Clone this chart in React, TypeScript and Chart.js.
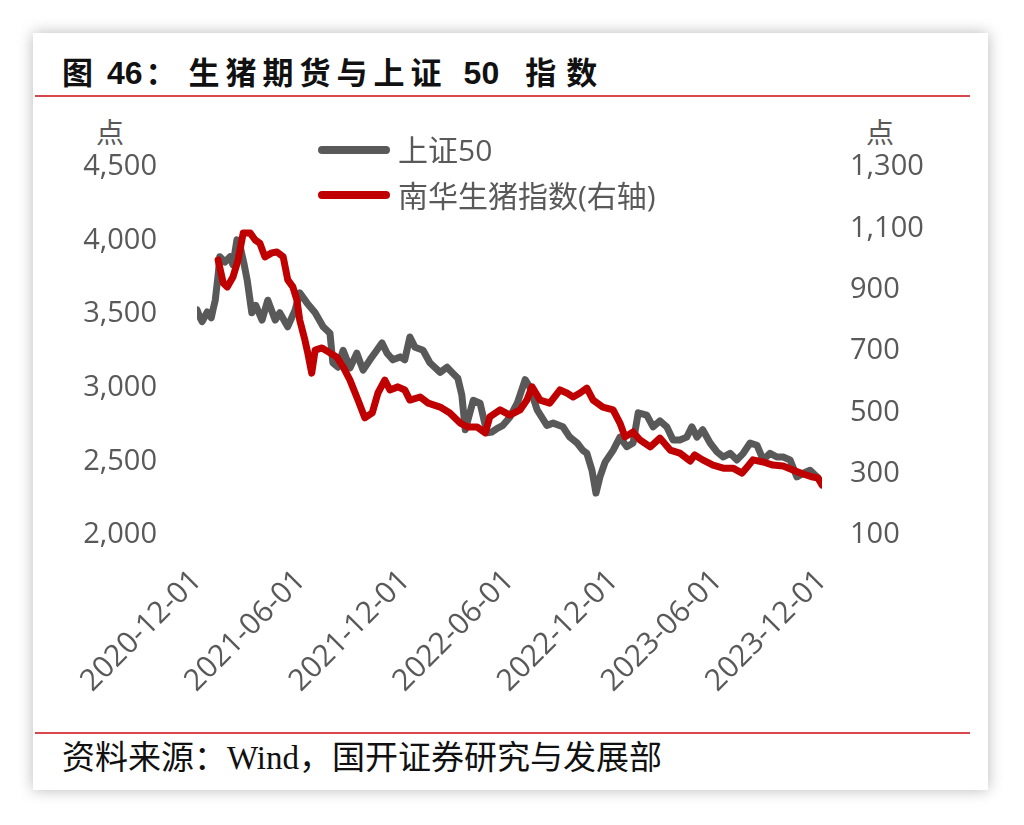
import React, { useEffect, useRef } from "react";
import Chart from "chart.js/auto";

// x values are days since 2020-12-01
const xTickDays = [0, 182, 365, 547, 730, 912, 1095];
const xTickLabels = ["2020-12-01", "2021-06-01", "2021-12-01", "2022-06-01", "2022-12-01", "2023-06-01", "2023-12-01"];

const leftTicks = [2000, 2500, 3000, 3500, 4000, 4500];
const rightTicks = [100, 300, 500, 700, 900, 1100, 1300];

const seriesNames = ["上证50", "南华生猪指数(右轴)"];

// 上证50 (left axis)
const sz50Days = [0,5,9,18,25,28,32,37,40,49,58,63,70,75,82,88,96,103,114,124,137,145,159,172,180,193,207,221,233,238,247,256,268,280,291,303,315,324,333,343,356,364,373,382,396,408,426,438,448,457,464,470,484,496,508,517,526,536,548,561,575,583,596,613,624,641,653,666,676,683,692,699,706,715,729,741,753,764,773,788,799,811,823,834,846,858,867,876,886,899,911,922,934,946,957,969,981,992,1004,1016,1027,1039,1051,1062,1074,1086,1095];
const sz50Vals = [3530,3480,3450,3515,3475,3530,3595,3765,3890,3855,3890,3835,4005,3970,3850,3730,3510,3560,3460,3595,3460,3510,3415,3530,3645,3575,3510,3415,3370,3170,3140,3255,3135,3235,3120,3190,3255,3305,3235,3190,3210,3190,3345,3275,3255,3170,3105,3140,3100,3065,2950,2715,2915,2895,2695,2700,2725,2745,2800,2895,3055,3005,2850,2745,2760,2735,2665,2625,2575,2555,2440,2285,2395,2495,2575,2665,2600,2625,2830,2815,2735,2775,2735,2645,2645,2665,2735,2665,2715,2625,2565,2530,2555,2510,2555,2625,2610,2510,2555,2530,2530,2510,2395,2420,2440,2395,2355];

// 南华生猪指数 (right axis)
const hogDays = [37,46,53,63,72,81,93,102,110,119,131,140,151,159,168,175,180,189,194,201,207,219,230,245,256,268,282,294,307,317,329,338,352,364,373,391,405,426,443,461,475,491,505,513,531,548,566,578,587,601,618,636,648,659,671,683,694,711,729,741,750,764,776,794,811,829,846,864,872,886,904,922,939,955,964,974,992,1009,1027,1044,1062,1079,1088,1095];
const hogVals = [997,922,909,941,997,1085,1085,1062,1052,1007,1020,1023,1007,932,909,866,801,736,694,628,703,710,697,680,648,605,540,482,498,563,605,573,583,573,540,550,530,517,498,465,452,452,433,485,508,491,508,540,583,540,530,573,563,550,563,579,540,517,508,465,420,436,410,387,416,377,367,341,361,345,328,318,318,302,322,345,338,328,325,312,299,289,286,263];

const GRAY = "#595959";
const RED = "#c00000";
const AXIS_FONT = "'Open Sans', 'Noto Sans CJK SC', sans-serif";

const CANVAS_LEFT = 35;
const CANVAS_TOP = 100;
const CANVAS_W = 953;
const CANVAS_H = 630;

export default function App() {
  const ref = useRef<HTMLCanvasElement | null>(null);

  useEffect(() => {
    if (!ref.current) return;
    const sz = sz50Days.map((d, i) => ({ x: d, y: sz50Vals[i] }));
    const hog = hogDays.map((d, i) => ({ x: d, y: hogVals[i] }));
    const chart = new Chart(ref.current, {
      type: "line",
      data: {
        datasets: [
          {
            label: seriesNames[0],
            data: sz,
            yAxisID: "y",
            borderColor: GRAY,
            backgroundColor: GRAY,
            borderWidth: 7,
            pointRadius: 0,
            tension: 0,
            borderJoinStyle: "round",
            borderCapStyle: "round",
            order: 2,
          },
          {
            label: seriesNames[1],
            data: hog,
            yAxisID: "y1",
            borderColor: RED,
            backgroundColor: RED,
            borderWidth: 7,
            pointRadius: 0,
            tension: 0,
            borderJoinStyle: "round",
            borderCapStyle: "round",
            order: 1,
          },
        ],
      },
      options: {
        responsive: false,
        animation: false,
        layout: { padding: { top: 67, left: 0, right: 0, bottom: 0 } },
        plugins: { legend: { display: false }, tooltip: { enabled: false } },
        scales: {
          x: {
            type: "linear",
            min: xTickDays[0],
            max: xTickDays[xTickDays.length - 1],
            grid: { display: false },
            border: { display: false },
            afterBuildTicks: (scale: any) => {
              scale.ticks = xTickDays.map((v) => ({ value: v }));
            },
            afterFit: (scale: any) => {
              scale.height = CANVAS_TOP + CANVAS_H - 535;
            },
            ticks: {
              autoSkip: false,
              minRotation: 45,
              maxRotation: 45,
              padding: 20,
              color: GRAY,
              font: { family: AXIS_FONT, size: 30 },
              callback: (v: any) => {
                const i = xTickDays.indexOf(Number(v));
                return i >= 0 ? xTickLabels[i] : "";
              },
            },
          },
          y: {
            position: "left",
            min: leftTicks[0],
            max: leftTicks[leftTicks.length - 1],
            grid: { display: false },
            border: { display: false },
            afterBuildTicks: (scale: any) => {
              scale.ticks = leftTicks.map((v) => ({ value: v }));
            },
            afterFit: (scale: any) => {
              scale.width = 197 - CANVAS_LEFT;
            },
            ticks: {
              padding: 32,
              color: GRAY,
              font: { family: AXIS_FONT, size: 29 },
              callback: (v: any) => Number(v).toLocaleString("en-US"),
            },
          },
          y1: {
            position: "right",
            min: rightTicks[0],
            max: rightTicks[rightTicks.length - 1],
            grid: { display: false },
            border: { display: false },
            afterBuildTicks: (scale: any) => {
              scale.ticks = rightTicks.map((v) => ({ value: v }));
            },
            afterFit: (scale: any) => {
              scale.width = CANVAS_LEFT + CANVAS_W - 822;
            },
            ticks: {
              padding: 20,
              color: GRAY,
              font: { family: AXIS_FONT, size: 29 },
              callback: (v: any) => Number(v).toLocaleString("en-US"),
            },
          },
        },
      },
    });
    return () => chart.destroy();
  }, []);

  const abs = (s: React.CSSProperties): React.CSSProperties => ({ position: "absolute", ...s });
  const cjk: React.CSSProperties = { letterSpacing: 6 };
  const num: React.CSSProperties = { fontFamily: "'Liberation Sans', sans-serif", letterSpacing: 0 };

  return (
    <div style={{ position: "fixed", left: 0, top: 0, width: 1024, height: 825, background: "#ffffff", overflow: "hidden" }}>
      <div
        style={abs({
          left: 33,
          top: 33,
          width: 955,
          height: 757,
          background: "#ffffff",
          boxShadow: "0 0 14px rgba(0,0,0,0.28)",
        })}
      />
      <div
        style={abs({
          left: 62,
          top: 50,
          fontFamily: "'Noto Sans CJK SC', sans-serif",
          fontWeight: 700,
          fontSize: 31,
          color: "#111",
          whiteSpace: "nowrap",
          lineHeight: "42px",
        })}
      >
        <span style={cjk}>图</span>
        <span style={{ ...num, marginLeft: 8, fontSize: 32 }}>46</span>
        <span style={{ marginLeft: 3, marginRight: 12 }}>：</span>
        <span style={cjk}>生猪期货与上证</span>
        <span style={{ ...num, marginLeft: 16, fontSize: 32 }}>50</span>
        <span style={{ ...cjk, letterSpacing: 10, marginLeft: 26 }}>指数</span>
      </div>
      <div style={abs({ left: 35, top: 95, width: 935, height: 2, background: "#d9464e" })} />

      <div style={abs({ left: 96, top: 112, fontFamily: AXIS_FONT, fontSize: 28, color: GRAY, lineHeight: "40px" })}>点</div>
      <div style={abs({ left: 866, top: 112, fontFamily: AXIS_FONT, fontSize: 28, color: GRAY, lineHeight: "40px" })}>点</div>

      <canvas
        ref={ref}
        width={CANVAS_W}
        height={CANVAS_H}
        style={abs({ left: CANVAS_LEFT, top: CANVAS_TOP, width: CANVAS_W, height: CANVAS_H })}
      />

      <div style={abs({ left: 318, top: 146, width: 72, height: 8, borderRadius: 4, background: GRAY })} />
      <div style={abs({ left: 398, top: 130, fontFamily: AXIS_FONT, fontSize: 30, color: GRAY, lineHeight: "40px", whiteSpace: "nowrap" })}>
        {seriesNames[0]}
      </div>
      <div style={abs({ left: 318, top: 191, width: 72, height: 8, borderRadius: 4, background: RED })} />
      <div style={abs({ left: 398, top: 176, fontFamily: AXIS_FONT, fontSize: 30, color: GRAY, lineHeight: "40px", whiteSpace: "nowrap" })}>
        {seriesNames[1]}
      </div>

      <div style={abs({ left: 35, top: 732, width: 935, height: 2, background: "#d9464e" })} />
      <div
        style={abs({
          left: 62,
          top: 738,
          fontFamily: "'Liberation Serif', 'Noto Sans CJK SC', serif",
          fontSize: 33,
          color: "#111",
          whiteSpace: "nowrap",
          lineHeight: "40px",
        })}
      >
        资料来源：Wind，国开证券研究与发展部
      </div>
    </div>
  );
}
